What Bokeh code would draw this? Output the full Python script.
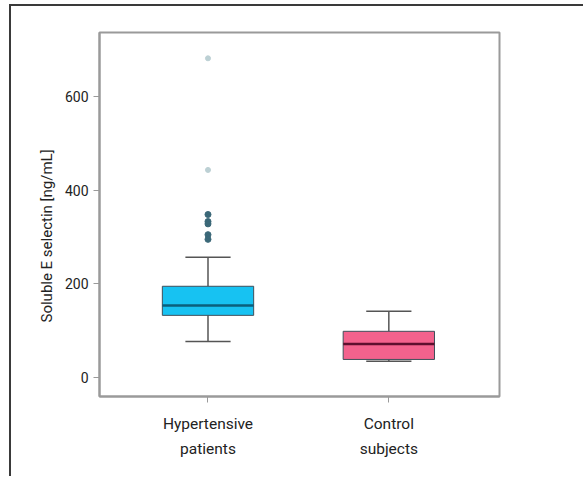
from bokeh.plotting import figure
from bokeh.models import Range1d, FixedTicker, Title
from bokeh.embed import file_html
from bokeh.resources import INLINE

# ---- data ----
categories = ["Hypertensive\npatients", "Control\nsubjects"]
positions = [1, 2]
q1 = [133, 39]
median = [154, 72]
q3 = [195, 99]
whisker_low = [77, 35]
whisker_high = [257, 142]
outliers_hyp = [348, 333, 328, 305, 295]
extremes_hyp = [681, 443]
box_colors = ["#17C2F2", "#F3628D"]
median_colors = ["#0B5F7C", "#5E0F2E"]
y_ticks = [0, 200, 400, 600]
y_title = "Soluble E selectin [ng/mL]"

FONT = "Roboto"

p = figure(width=574, height=472, output_backend="svg", toolbar_location=None,
           x_range=Range1d(0.4, 2.612), y_range=Range1d(-40, 736),
           min_border_left=88, min_border_right=86, min_border_top=26,
           min_border_bottom=82)
p.styles = {"border-top": "2px solid #3a3a3a", "border-left": "2px solid #3a3a3a",
            "margin-top": "4px", "margin-left": "9px"}

p.xgrid.visible = False
p.ygrid.visible = False
p.outline_line_color = "#9a9a9a"
p.outline_line_width = 2

# whiskers
p.segment(x0=positions, x1=positions, y0=whisker_low, y1=q1, line_color="#555555", line_width=1.5)
p.segment(x0=positions, x1=positions, y0=q3, y1=whisker_high, line_color="#555555", line_width=1.5)
cap_l = [x - 0.125 for x in positions]
cap_r = [x + 0.125 for x in positions]
p.segment(x0=cap_l, x1=cap_r, y0=whisker_low, y1=whisker_low, line_color="#555555", line_width=1.5)
p.segment(x0=cap_l, x1=cap_r, y0=whisker_high, y1=whisker_high, line_color="#555555", line_width=1.5)

# boxes
p.vbar(x=positions, width=0.505, bottom=q1, top=q3, fill_color=box_colors,
       line_color="#3f4f5a", line_width=1)
med_l = [x - 0.2525 for x in positions]
med_r = [x + 0.2525 for x in positions]
p.segment(x0=med_l, x1=med_r, y0=median, y1=median, line_color=median_colors, line_width=2.5)

# outliers
p.scatter(x=[positions[0]] * len(outliers_hyp), y=outliers_hyp, size=6,
          fill_color="#3b6878", line_color="#3b6878")
p.scatter(x=[positions[0]] * len(extremes_hyp), y=extremes_hyp, size=5,
          fill_color="#bcd0d4", line_color="#bcd0d4")

# axes
p.xaxis.ticker = FixedTicker(ticks=positions)
p.xaxis.major_label_overrides = {pos: lab for pos, lab in zip(positions, categories)}
p.xaxis.minor_tick_line_color = None
p.xaxis.major_tick_in = 0
p.xaxis.major_tick_out = 6
p.xaxis.major_label_standoff = 12
p.xaxis.major_label_text_font = FONT
p.xaxis.major_label_text_font_size = "15.5px"
p.xaxis.major_label_text_color = "#222222"
p.xaxis.major_label_text_line_height = 1.4

p.yaxis.ticker = FixedTicker(ticks=y_ticks)
p.yaxis.minor_tick_line_color = None
p.yaxis.major_tick_in = 0
p.yaxis.major_tick_out = 6
p.yaxis.major_label_standoff = 5
p.yaxis.major_label_text_font = FONT
p.yaxis.major_label_text_font_size = "14px"
p.yaxis.major_label_text_color = "#222222"

# y-axis title as a side title, starting a little above the frame bottom
p.add_layout(Title(text=y_title, align="left", offset=74, standoff=11,
                   text_font=FONT, text_font_size="15px", text_font_style="normal",
                   text_color="#222222"), "left")

for ax in (p.xaxis, p.yaxis):
    ax.axis_line_color = "#9a9a9a"
    ax.axis_line_width = 2
    ax.major_tick_line_color = "#9a9a9a"
    ax.major_tick_line_width = 1

open("out.html", "w").write(file_html(p, INLINE))
